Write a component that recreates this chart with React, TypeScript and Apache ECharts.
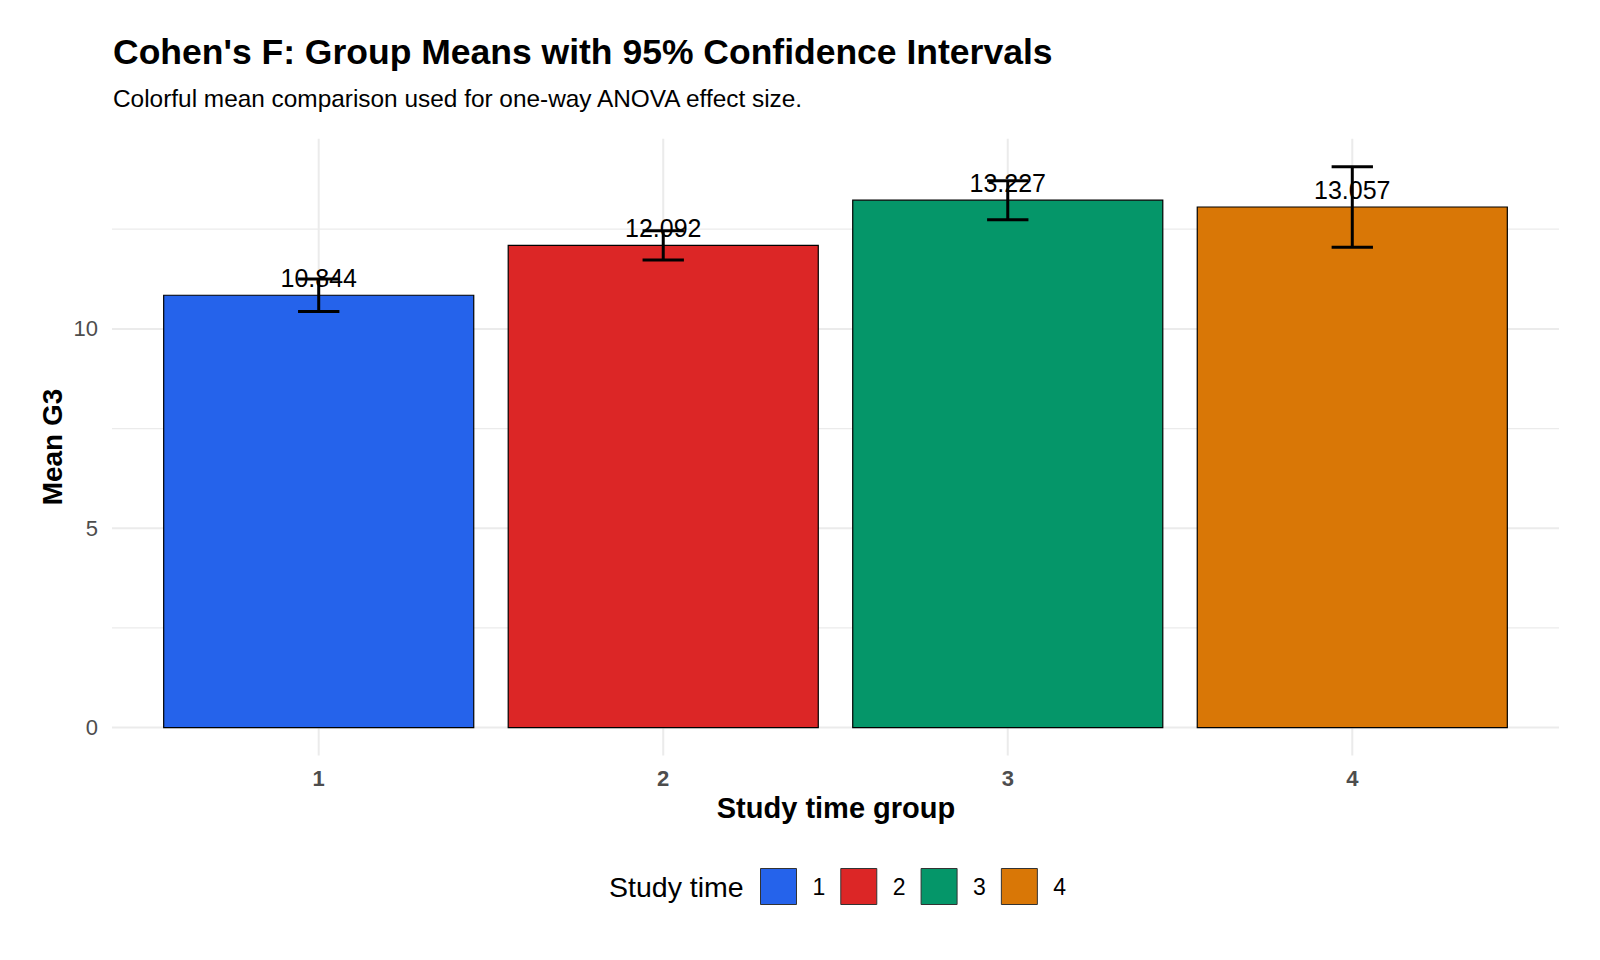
import { useEffect, useRef } from "react";
import * as echarts from "echarts";

// Study-time groups and their G3 summary statistics
const groups = ["1", "2", "3", "4"];
const groupPos = [1, 2, 3, 4];
const means = [10.844, 12.092, 13.227, 13.057];
const ciLower = [10.434, 11.725, 12.737, 12.047];
const ciUpper = [11.254, 12.459, 13.717, 14.067];
const colors = ["#2563EB", "#DC2626", "#059669", "#D97706"];

// Axis ticks
const yTickLabels = [0, 5, 10];
const yMinorTicks = [2.5, 7.5, 12.5];

const FONT = '"Liberation Sans", Arial, Helvetica, sans-serif';
const X_MIN = 0.4;
const X_MAX = 4.6;
const Y_MIN = -0.703;
const Y_MAX = 14.77;
const BAR_HALF = 0.45;
const CAP_HALF = 0.06;
const GRID_COLOR = "#EBEBEB";

export default function App() {
  const ref = useRef<HTMLDivElement>(null);

  useEffect(() => {
    if (!ref.current) return;
    const chart = echarts.init(ref.current, undefined, { renderer: "svg" });

    const barSeries = groups.map((g, i) => ({
      type: "custom",
      name: g,
      coordinateSystem: "cartesian2d",
      clip: false,
      z: 3,
      itemStyle: { color: colors[i] },
      data: [[groupPos[i], means[i]]],
      renderItem: (_params: any, api: any) => {
        const x = api.value(0);
        const y = api.value(1);
        const tl = api.coord([x - BAR_HALF, y]);
        const br = api.coord([x + BAR_HALF, 0]);
        return {
          type: "rect",
          shape: { x: tl[0], y: tl[1], width: br[0] - tl[0], height: br[1] - tl[1] },
          style: { fill: colors[i], stroke: "#000", lineWidth: 1.2 },
        };
      },
    }));

    const hGrid = (values: number[], width: number) => ({
      type: "custom",
      coordinateSystem: "cartesian2d",
      silent: true,
      clip: false,
      z: 1,
      data: values.map((v) => [X_MIN, v]),
      renderItem: (params: any, api: any) => {
        const cs = params.coordSys;
        const p = api.coord([api.value(0), api.value(1)]);
        return {
          type: "line",
          shape: { x1: cs.x, y1: p[1], x2: cs.x + cs.width, y2: p[1] },
          style: { stroke: GRID_COLOR, lineWidth: width },
        };
      },
    });

    const vGrid = {
      type: "custom",
      coordinateSystem: "cartesian2d",
      silent: true,
      clip: false,
      z: 1,
      data: groupPos.map((x) => [x, 0]),
      renderItem: (params: any, api: any) => {
        const cs = params.coordSys;
        const p = api.coord([api.value(0), api.value(1)]);
        return {
          type: "line",
          shape: { x1: p[0], y1: cs.y, x2: p[0], y2: cs.y + cs.height },
          style: { stroke: GRID_COLOR, lineWidth: 2 },
        };
      },
    };

    const errorSeries = {
      type: "custom",
      coordinateSystem: "cartesian2d",
      silent: true,
      clip: false,
      z: 5,
      data: groupPos.map((x, i) => [x, ciLower[i], ciUpper[i], means[i]]),
      renderItem: (_params: any, api: any) => {
        const x = api.value(0);
        const lo = api.coord([x, api.value(1)]);
        const hi = api.coord([x, api.value(2)]);
        const top = api.coord([x, api.value(3)]);
        const capL = api.coord([x - CAP_HALF, 0])[0];
        const capR = api.coord([x + CAP_HALF, 0])[0];
        const stroke = { stroke: "#000", lineWidth: 3 };
        return {
          type: "group",
          children: [
            { type: "line", shape: { x1: lo[0], y1: lo[1], x2: hi[0], y2: hi[1] }, style: stroke },
            { type: "line", shape: { x1: capL, y1: lo[1], x2: capR, y2: lo[1] }, style: stroke },
            { type: "line", shape: { x1: capL, y1: hi[1], x2: capR, y2: hi[1] }, style: stroke },
            {
              type: "text",
              x: top[0],
              y: top[1] - 17,
              z2: 10,
              style: {
                text: Number(api.value(3)).toFixed(3),
                fill: "#000",
                fontSize: 25,
                fontFamily: FONT,
                align: "center",
                verticalAlign: "middle",
              },
            },
          ],
        };
      },
    };

    chart.setOption({
      animation: false,
      backgroundColor: "#FFFFFF",
      grid: { left: 112, right: 41, top: 138.7, bottom: 204.4 },
      xAxis: {
        type: "value",
        min: X_MIN,
        max: X_MAX,
        axisLine: { show: false },
        axisTick: { show: false },
        splitLine: { show: false },
        axisLabel: {
          customValues: groupPos,
          formatter: (v: number) => groups[groupPos.indexOf(v)] ?? "",
          fontSize: 22,
          fontWeight: "bold",
          fontFamily: FONT,
          color: "#4D4D4D",
          margin: 12,
        },
      },
      yAxis: {
        type: "value",
        min: Y_MIN,
        max: Y_MAX,
        axisLine: { show: false },
        axisTick: { show: false },
        splitLine: { show: false },
        axisLabel: {
          customValues: yTickLabels,
          formatter: (v: number) => String(v),
          fontSize: 22,
          fontFamily: FONT,
          color: "#4D4D4D",
          margin: 14,
        },
      },
      legend: {
        left: 755,
        top: 863,
        itemWidth: 36,
        itemHeight: 36,
        itemGap: 15,
        selectedMode: false,
        data: groups.map((g, i) => ({
          name: g,
          icon: "rect",
          itemStyle: { color: colors[i], borderColor: "#333", borderWidth: 1 },
        })),
        textStyle: { fontSize: 23, color: "#000", fontFamily: FONT, padding: [0, 0, 0, 11] },
      },
      graphic: [
        {
          type: "text",
          x: 113,
          y: 52,
          style: {
            text: "Cohen's F: Group Means with 95% Confidence Intervals",
            fontSize: 35.5,
            fontWeight: "bold",
            fontFamily: FONT,
            fill: "#000",
            verticalAlign: "middle",
          },
        },
        {
          type: "text",
          x: 113,
          y: 98,
          style: {
            text: "Colorful mean comparison used for one-way ANOVA effect size.",
            fontSize: 24.4,
            fontFamily: FONT,
            fill: "#000",
            verticalAlign: "middle",
          },
        },
        {
          type: "text",
          x: 836,
          y: 808,
          style: {
            text: "Study time group",
            fontSize: 29,
            fontWeight: "bold",
            fontFamily: FONT,
            fill: "#000",
            align: "center",
            verticalAlign: "middle",
          },
        },
        {
          type: "text",
          x: 52,
          y: 447,
          rotation: Math.PI / 2,
          style: {
            text: "Mean G3",
            fontSize: 28,
            fontWeight: "bold",
            fontFamily: FONT,
            fill: "#000",
            align: "center",
            verticalAlign: "middle",
          },
        },
        {
          type: "text",
          x: 609,
          y: 887,
          style: {
            text: "Study time",
            fontSize: 28.5,
            fontFamily: FONT,
            fill: "#000",
            verticalAlign: "middle",
          },
        },
      ],
      series: [
        hGrid(yMinorTicks, 1.2),
        hGrid(yTickLabels, 2),
        vGrid,
        ...barSeries,
        errorSeries,
      ],
    });

    return () => chart.dispose();
  }, []);

  return (
    <div
      ref={ref}
      style={{ position: "fixed", left: 0, top: 0, width: 1600, height: 960 }}
    />
  );
}
